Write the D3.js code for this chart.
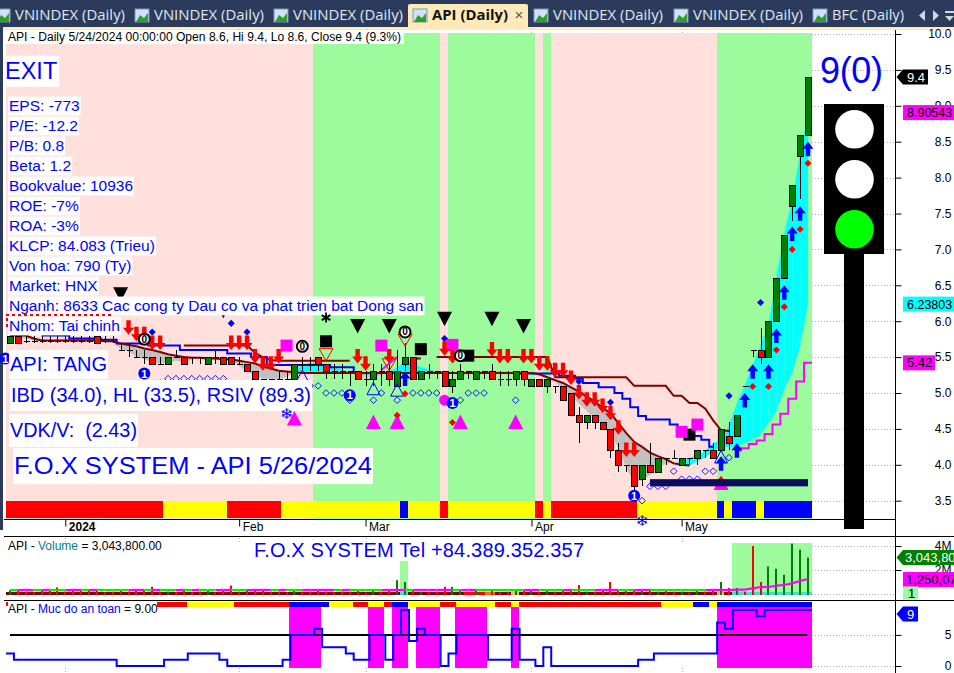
<!DOCTYPE html>
<html><head><meta charset="utf-8">
<style>
html,body{margin:0;padding:0;background:#fff;overflow:hidden}
svg{display:block}
text{font-family:"Liberation Sans",Arial,sans-serif}
</style>
<script src="https://cdn.jsdelivr.net/npm/d3@7/dist/d3.min.js"></script>
</head><body><svg id="c" width="954" height="673"></svg>
<script>
// ---------- DATA (bar index 0..101) ----------
const opens =[5.7,5.8,5.73,5.73,5.73,5.73,5.73,5.73,5.73,5.73,5.73,5.8,5.73,5.73,5.6,5.6,5.5,5.5,5.5,5.4,5.4,5.5,5.5,5.5,5.5,5.4,5.5,5.5,5.5,5.4,5.4,5.3,5.2,5.2,5.2,5.2,5.2,5.4,5.4,5.5,5.4,5.3,5.3,5.3,5.3,5.2,5.2,5.3,5.3,5.1,5.4,5.5,5.2,5.3,5.3,5.3,5.1,5.2,5.3,5.2,5.3,5.3,5.2,5.2,5.2,5.3,5.1,5.2,5.1,5.1,5.1,5.0,4.7,4.6,4.7,4.6,4.5,4.2,4.0,4.0,3.8,4.0,3.9,4.1,4.1,4.0,4.1,4.1,4.2,4.2,4.2,4.4,4.4,5.1,5.6,5.6,5.5,6.0,6.6,7.6,8.3,8.6];
const highs =[5.8,5.8,5.8,5.8,5.8,5.8,5.8,5.8,5.8,5.8,5.8,5.8,5.8,5.8,5.7,5.7,5.6,5.6,5.5,5.5,5.5,5.6,5.5,5.5,5.5,5.5,5.6,5.5,5.5,5.5,5.4,5.3,5.2,5.2,5.3,5.3,5.4,5.5,5.5,5.5,5.4,5.4,5.4,5.3,5.3,5.3,5.4,5.4,5.4,5.6,5.7,5.5,5.3,5.4,5.3,5.3,5.3,5.4,5.3,5.3,5.3,5.4,5.3,5.3,5.3,5.3,5.2,5.2,5.2,5.1,5.1,5.0,4.8,4.7,4.7,4.6,4.5,4.3,4.0,4.0,4.0,4.3,4.1,4.1,4.2,4.1,4.1,4.2,4.2,4.3,4.5,4.6,4.7,5.1,5.6,5.9,6.0,6.6,7.2,7.9,8.6,9.4];
const lows  =[5.7,5.7,5.69,5.69,5.69,5.69,5.69,5.69,5.69,5.69,5.69,5.7,5.69,5.69,5.6,5.5,5.5,5.4,5.4,5.4,5.4,5.5,5.4,5.4,5.4,5.4,5.4,5.4,5.4,5.4,5.3,5.2,5.2,5.2,5.2,5.2,5.2,5.3,5.3,5.3,5.2,5.2,5.2,5.1,5.2,5.1,5.1,5.1,5.1,5.1,5.3,5.2,5.2,5.2,5.2,5.1,5.0,5.2,5.2,5.2,5.2,5.2,5.1,5.1,5.1,5.1,5.1,5.1,5.0,5.0,4.9,4.7,4.3,4.5,4.5,4.5,4.1,3.9,3.9,3.65,3.7,3.9,3.9,4.0,4.1,4.0,4.0,4.0,4.1,4.1,4.2,4.2,4.4,5.1,5.5,5.4,5.5,6.0,6.6,7.4,7.7,8.6];
const closes=[5.8,5.7,5.73,5.73,5.73,5.73,5.73,5.73,5.73,5.73,5.73,5.7,5.73,5.73,5.6,5.6,5.5,5.5,5.4,5.4,5.5,5.5,5.4,5.5,5.5,5.5,5.5,5.4,5.4,5.4,5.3,5.2,5.2,5.2,5.2,5.2,5.4,5.4,5.4,5.4,5.3,5.3,5.3,5.3,5.2,5.2,5.3,5.3,5.2,5.3,5.5,5.2,5.3,5.3,5.3,5.1,5.2,5.3,5.3,5.3,5.3,5.2,5.2,5.2,5.3,5.2,5.2,5.1,5.2,5.1,4.9,4.7,4.6,4.7,4.6,4.5,4.2,4.0,4.0,3.7,4.0,3.9,4.1,4.1,4.1,4.1,4.1,4.2,4.2,4.1,4.5,4.3,4.7,5.1,5.6,5.5,6.0,6.6,7.2,7.9,8.6,9.4];
const volumes=[.3,.35,.2,.15,.3,.3,.55,.2,.3,.25,.35,.35,.15,.2,.3,.2,.35,.3,.6,.2,.2,.15,.3,.15,.2,.3,.15,.3,.7,.2,.35,.3,.3,.2,.2,.15,.3,.2,.2,.3,.2,.15,.2,.2,.3,.1,.4,.2,.3,1.15,1.0,.3,.2,.15,.2,.6,.6,.3,.2,.3,.2,.35,.15,.2,.3,.25,.3,.2,.35,.2,.3,.4,.75,.2,.2,.3,1.0,.3,.25,.35,.3,.35,.2,.25,.2,.2,.1,.3,.2,.35,1.0,.5,.5,.2,4.0,1.0,2.3,2.1,1.6,4.2,3.7,3.04];
const safety=[2,1,1,1,1,1,1,1,1,1,1,1,1,1,0,0,0,0,0,0,1,1,1,2,2,2,2,1,0,0,0,0,0,0,0,1,5,5,5,6,3,3,3,2,1,1,5,5,1,5,9,4,6,5,5,0,2,5,5,5,5,1,1,1,6,1,1,0,3,0,0,0,0,0,0,0,0,0,0,0,1,1,2,2,2,2,2,2,2,2,7,6,9,9,9,8,9,9,9,9,9,9];
const fastCurve=[5.8,5.78,5.76,5.73,5.72,5.73,5.74,5.75,5.75,5.75,5.75,5.75,5.75,5.71,5.62,5.58,5.5,5.47,5.42,5.41,5.42,5.45,5.43,5.47,5.49,5.49,5.5,5.47,5.47,5.38,5.3,5.24,5.2,5.2,5.2,5.22,5.3,5.4,5.42,5.42,5.38,5.35,5.32,5.3,5.26,5.22,5.22,5.25,5.3,5.36,5.45,5.42,5.36,5.33,5.3,5.28,5.26,5.29,5.3,5.3,5.3,5.3,5.3,5.3,5.29,5.28,5.27,5.24,5.2,5.15,5.05,4.95,4.85,4.75,4.65,4.55,4.42,4.25,3.95,3.76,3.78,3.86,3.95,4.02,4.02,4.05,4.1,4.13,4.2,4.3,4.35,4.55,4.86,5.1,5.39,5.67,5.95,6.62,7.23,7.69,8.34,8.90543];
const slowCurve=[5.8,5.8,5.8,5.76,5.73,5.73,5.73,5.73,5.73,5.73,5.73,5.73,5.72,5.72,5.69,5.67,5.65,5.62,5.6,5.57,5.54,5.52,5.5,5.49,5.49,5.48,5.48,5.47,5.47,5.45,5.43,5.41,5.37,5.34,5.31,5.3,5.29,5.28,5.28,5.28,5.28,5.28,5.28,5.28,5.28,5.28,5.28,5.28,5.28,5.28,5.28,5.28,5.28,5.28,5.28,5.28,5.28,5.28,5.28,5.28,5.28,5.28,5.28,5.28,5.28,5.28,5.28,5.26,5.22,5.18,5.14,5.08,5.02,4.95,4.88,4.79,4.72,4.58,4.44,4.32,4.25,4.17,4.12,4.08,4.02,4.0,3.99,4.05,4.1,4.2,4.24,4.25,4.26,4.3,4.35,4.42,4.58,4.75,5.05,5.28,5.65,6.23803];
const slowLineEnd=86;
const blueTrail=[null,null,null,null,5.8,5.8,5.8,5.8,5.76,5.76,5.76,5.76,5.74,5.74,5.69,5.69,5.69,5.69,5.66,5.66,5.66,5.66,5.6,5.6,5.6,5.6,5.6,5.6,5.55,5.55,5.55,5.5,5.5,5.39,5.39,5.39,5.39,5.39,5.39,5.39,5.39,5.36,5.36,5.36,5.28,5.28,5.28,5.28,5.28,5.28,5.28,5.28,5.28,5.28,5.28,5.28,5.28,5.28,5.28,5.28,5.28,5.28,5.28,5.28,5.28,5.27,5.27,5.27,5.27,5.27,5.24,5.24,5.2,5.14,5.14,5.08,5.08,5.0,4.92,4.8,4.68,4.63,4.63,4.63,4.56,4.5,4.47,4.4,4.35,4.25];
const redTrail=[null,null,null,null,null,null,null,null,null,null,null,null,null,null,null,null,null,null,null,null,null,null,5.66,5.66,5.66,5.66,5.66,5.66,5.66,5.66,5.66,5.56,5.5,5.46,5.45,5.45,5.45,5.45,5.45,5.45,5.45,5.45,5.45,5.45,null,null,null,null,null,null,null,5.48,5.48,null,5.5,5.5,5.5,5.5,5.5,5.5,5.5,5.5,5.5,5.5,5.5,5.5,5.5,5.5,5.5,5.22,5.22,5.22,5.22,5.22,5.22,5.22,5.22,5.22,5.22,5.1,5.1,5.1,5.1,5.1,4.96,4.96,4.86,4.86,4.78,4.62,4.48,4.47];
const magentaBars=[92,93,94,95,96,97,98,99,100,101];
const magentaTrail=[4.2,4.23,4.29,4.34,4.43,4.56,4.71,4.92,5.16,5.42];
const magentaShortBars=[47,48,49];
const magentaShort=[5.32,5.41,5.5];
const volMA=[.33,.33,.34,.33,.33,.34,.33,.33,.34,.34,.33,.34,.33,.33,.33,.33,.34,.34,.33,.34,.33,.33,.34,.33,.34,.33,.33,.34,.34,.33,.33,.34,.34,.34,.33,.34,.33,.33,.34,.34,.34,.34,.33,.34,.33,.33,.33,.33,.34,.34,.34,.33,.34,.34,.34,.34,.34,.33,.34,.34,.34,.33,.33,.33,.33,.33,.34,.34,.33,.33,.33,.34,.33,.33,.33,.34,.34,.34,.33,.33,.34,.34,.33,.33,.33,.33,.33,.33,.33,.34,.34,.33,.36,.36,.47,.58,.58,.69,.75,.89,1.08,1.25];
const volMAMagenta=[2,3,5,8,9,11,16,17,19,22,24,27,28,31,32,33,35,38,39,40,41,43,48,49,50,52,53,54,55,56,58,59,66,67,71,75,76,77,80,81,89,90,91,92,93,94,95,96,97,98,99,100,101];
const bandEdges=[-0.4,49.5,50.5,57.5,60,61.5,63.5,64.5,89.6,90.5,91.5,101.6];
const bandColors=["#800000","#40e0d0","#800000","#ff0000","#ff6a20","#800000","#ffb070","#800000","#ffb070","#800000","#40e0d0"];
const volHighlightFrom=[49.5,91.5];
const volHighlightTo=[50.5,101.6];
const volHighlightTop=[2.75,4.25];
const zoneEdges=[-0.4,38.5,54.5,55.5,66.5,67.5,68.5,89.6,101.6];
const zoneKinds=["bear","bull","bear","bull","bear","bull","bear","bull"];
const stripEdges=[-0.4,19.5,27.5,34.4,49.5,50.5,54.5,55.5,66.5,67.5,68.5,79.5,89.6,90.5,91.5,94.5,95.5,101.6];
const stripColors=["#ff0000","#ffff00","#ff0000","#ffff00","#0000ff","#ffff00","#ff0000","#ffff00","#ff0000","#ffff00","#ff0000","#ffff00","#0000ff","#ffff00","#0000ff","#ffff00","#0000ff"];
const strip2Edges=[18.7,22.5,28.5,35.4,40.5,43.5,45.4,47.4,48.5,50.5,54.5,56.5,61.5,63.5,64.5,82.5,86.5,88.6,89.6,101.6];
const strip2Colors=["#ff0000","#ffff00","#ff0000","#0000ff","#ffff00","#ff0000","#ffff00","#ff0000","#0000ff","#ffff00","#ff0000","#ffff00","#ff0000","#ffff00","#ff0000","#ffff00","#0000ff","#ffff00","#0000ff"];
const sellBars=[15,16,17,18,19,28,29,30,31,32,33,34,44,45,48,55,56,61,62,63,65,66,67,68,69,70,71,72,73,74,75,76,77,78,79];
const sellTips=[5.81,5.72,5.72,5.6,5.6,5.6,5.6,5.6,5.41,5.31,5.31,5.41,5.41,5.31,5.41,5.52,5.41,5.51,5.41,5.41,5.41,5.41,5.31,5.31,5.22,5.22,5.11,4.91,4.81,4.81,4.72,4.62,4.42,4.11,4.11];
const buyBars=[50,90,92,93,94,96,97,98,99,100,101];
const buyTips=[5.3,4.12,4.3,5.0,5.4,5.4,5.9,6.5,7.32,7.6,8.5];
const redDotBars=[49,50,56,90,94,96,97,98,99,100,101];
const redDotPrices=[4.69,4.99,4.59,3.79,5.09,5.09,5.6,6.2,7.0,7.28,8.2];
const blueDotBars=[18,28,30,55,72,76,91,95];
const blueDotPrices=[5.85,5.97,5.85,5.76,5.16,4.87,4.96,6.26];
const ringBars=[20,21,22,23,24,25,26,27,37,38,39,40,41,42,46,47,49,51,52,53,54,57,58,59,60,64,80,81,82,83,84,85,86,87,88,89,91,43];
const ringPrices=[5.2,5.2,5.2,5.2,5.2,5.2,5.2,5.2,5.1,5.1,5.1,5.0,5.0,5.0,4.9,5.0,4.9,5.0,5.0,5.0,5.0,4.9,5.0,5.0,5.0,4.9,3.5,3.7,3.7,3.7,3.91,3.8,3.8,3.8,3.91,3.91,4.1,4.9];
const blueTriBars=[37,46,49,90];
const blueTriTops=[5.32,5.15,5.13,4.2];
const oneBars=[17,43,56,79,-0.6];
const onePrices=[5.27,4.97,4.86,3.57,5.48];
const zeroBars=[17,37,50,57];
const zeroPrices=[5.75,5.65,5.85,5.52];
const blackDownBars=[14,27,44,48,55,61,65];
const blackDownTips=[6.27,6.04,5.83,5.83,5.93,5.93,5.83];
const hollowDownBars=[40,48,50];
const hollowDownTips=[5.45,5.31,5.65];
const blackSquareBars=[40,52,58,86];
const blackSquarePrices=[5.72,5.61,5.52,4.42];
const magentaSquareBars=[35,47,56,85,87];
const magentaSquarePrices=[5.66,5.66,5.67,4.46,4.56];
const magentaDotBars=[55];
const magentaDotPrices=[4.9];
const magentaTriBars=[19,36,46,49,57,64,90];
const magentaTriTops=[5.2,4.75,4.7,4.7,4.7,4.7,3.85];
const snowBars=[35,80];
const snowPrices=[4.72,3.22];
const starBars=[40];
const starPrices=[6.05];
const navyFrom=81, navyTo=101, navyTop=3.8, navyBottom=3.7;
const monthBars=[7,29,45,66,85];
const monthLabels=["2024","Feb","Mar","Apr","May"];
const priceTicks=[3.5,4,4.5,5,5.5,6,6.5,7,7.5,8,8.5,9,9.5,10];
const volTicks=[0,2,4];
const safeTicks=[0,5];
const infoLines=["EPS: -773","P/E: -12.2","P/B: 0.8","Beta: 1.2","Bookvalue: 10936","ROE: -7%","ROA: -3%","KLCP: 84.083 (Trieu)","Von hoa: 790 (Ty)","Market: HNX","Nganh: 8633 Cac cong ty Dau co va phat trien bat Dong san","Nhom: Tai chinh"];
const tabNames=["VNINDEX (Daily)","VNINDEX (Daily)","VNINDEX (Daily)","API (Daily)","VNINDEX (Daily)","VNINDEX (Daily)","BFC (Daily)"];

// ---------- SCALES ----------
const svg=d3.select("#c");
const x=d3.scaleLinear([0,101],[10,808]);
const y=d3.scaleLinear([3.5,10],[500.7,34]);
const yV=d3.scaleLinear([0,4],[594,546]);
const yS=d3.scaleLinear([0,9],[666,610]);
const snap=v=>Math.round(v)+.5;
const edge=b=>Math.floor(x(b)-.2);
const BLUE="#0000ff",MAG="#ff00ff";

// ---------- CHROME ----------
svg.append("rect").attr("width",954).attr("height",27).attr("fill","#2c3b5c");
svg.append("rect").attr("y",27).attr("width",954).attr("height",3).attr("fill","#fdeab8");
svg.append("rect").attr("y",27).attr("width",3).attr("height",503).attr("fill","#2c3b5c");
svg.append("path").attr("d","M408,27V6q0,-2 2,-2H526q2,0 2,2V27Z").attr("fill","#fdeab8");
const tabX=[15,154,293,432,553,693,832], tabW=[110,110,110,76,110,110,72];
tabNames.forEach((t,i)=>{
  const ix=tabX[i]-19;
  const g=svg.append("g");
  g.append("rect").attr("x",ix).attr("y",9).attr("width",14).attr("height",13).attr("fill","#cfe2f7").attr("stroke","#7d97b8");
  g.append("path").attr("d",`M${ix+1},22L${ix+5},15L${ix+9},18L${ix+13},13V22Z`).attr("fill","#2f9e2f");
  const active=i===3;
  g.append("text").attr("x",tabX[i]).attr("y",20).attr("font-size",14.5)
    .style("font-family","'Open Sans',sans-serif")
    .attr("font-weight",active?700:400).attr("fill",active?"#111":"#dfe8f2")
    .attr("textLength",tabW[i]).attr("lengthAdjust","spacingAndGlyphs").text(t);
});
svg.append("text").attr("x",519).attr("y",20).attr("font-size",15).attr("fill","#555").attr("text-anchor","middle").text("×");
svg.append("path").attr("d","M925,10V21L919,15.5ZM933,10V21L939,15.5ZM945,11H954V13H945ZM945,16H954L949.5,21Z").attr("fill","#cfd6df");

// ---------- GRID ----------
const grid=svg.append("g").attr("stroke","#b4b4b4").attr("stroke-dasharray","1,2").attr("fill","none");
priceTicks.forEach(v=>grid.append("line").attr("x1",812).attr("x2",895).attr("y1",snap(y(v))).attr("y2",snap(y(v))));
volTicks.forEach(v=>grid.append("line").attr("x1",812).attr("x2",895).attr("y1",snap(yV(v))).attr("y2",snap(yV(v))));
safeTicks.forEach(v=>grid.append("line").attr("x1",812).attr("x2",895).attr("y1",snap(yS(v))).attr("y2",snap(yS(v))));
monthBars.forEach(b=>{[[29,33],[538,542],[668,673]].forEach(([a,c])=>grid.append("line").attr("x1",snap(x(b))).attr("x2",snap(x(b))).attr("y1",a).attr("y2",c));});

// ---------- MAIN PANE ----------
const rangeRects=(edges,fill,yTop,yBot)=>edges.slice(1).forEach((e,i)=>{
  svg.append("rect").attr("x",edge(edges[i])).attr("width",edge(e)-edge(edges[i]))
    .attr("y",yTop).attr("height",yBot-yTop).attr("fill",fill(i));
});
rangeRects(zoneEdges,i=>zoneKinds[i]==="bull"?"#9cfb9c":"#ffe0dc",33,519);
rangeRects(stripEdges,i=>stripColors[i],501,518);

const cloud=svg.append("g");
const area=d3.area().x(d=>x(d.i)).y0(d=>y(d.s)).y1(d=>y(d.f));
fastCurve.slice(1).forEach((f,k)=>{
  const pts=[{i:k,f:fastCurve[k],s:slowCurve[k]},{i:k+1,f:f,s:slowCurve[k+1]}];
  const up=(pts[0].f+pts[1].f)>=(pts[0].s+pts[1].s);
  cloud.append("path").attr("d",area(pts)).attr("fill",up?"#00ffff":"#c0c0c0");
});

// trail lines
const stepLine=d3.line().defined(d=>d[1]!=null).x(d=>x(d[0])).y(d=>y(d[1])).curve(d3.curveStep);
const smoothLine=d3.line().x(d=>x(d[0])).y(d=>y(d[1]));
svg.append("path").attr("fill","none").attr("stroke",BLUE).attr("stroke-width",2)
  .attr("d",stepLine(blueTrail.map((v,i)=>[i,v])));
svg.append("path").attr("fill","none").attr("stroke","#800000").attr("stroke-width",2)
  .attr("d",smoothLine(slowCurve.slice(0,slowLineEnd+1).map((v,i)=>[i,v])));
svg.append("path").attr("fill","none").attr("stroke","#800000").attr("stroke-width",2)
  .attr("d",d3.line().defined(d=>d[1]!=null).x(d=>x(d[0])).y(d=>y(d[1]))(redTrail.map((v,i)=>[i,v])));
svg.append("path").attr("fill","none").attr("stroke",MAG).attr("stroke-width",2)
  .attr("d",stepLine(magentaBars.map((b,i)=>[b,magentaTrail[i]]).concat([[101.5,5.42]])));
svg.append("path").attr("fill","none").attr("stroke",MAG).attr("stroke-width",2)
  .attr("d",smoothLine(magentaShortBars.map((b,i)=>[b,magentaShort[i]])));

// candles
const candles=svg.append("g");
closes.forEach((c,i)=>{
  const o=opens[i],px=snap(x(i));
  const g=candles.append("g").attr("stroke","#000").attr("shape-rendering","crispEdges");
  g.append("line").attr("x1",px).attr("x2",px).attr("y1",y(highs[i])).attr("y2",y(lows[i]));
  if(c===o){
    g.append("line").attr("x1",px-3).attr("x2",px+3).attr("y1",snap(y(c))).attr("y2",snap(y(c)));
  }else{
    const t=Math.round(y(Math.max(o,c))),b=Math.round(y(Math.min(o,c)));
    g.append("rect").attr("x",px-3).attr("width",6).attr("y",t+.5).attr("height",b-t)
      .attr("fill",c>o?"#008000":"#ff0000");
  }
});

// markers
const mk=svg.append("g");
const arrowDown="M-2.2,-14.5H2.2V-7H5.5L0,0L-5.5,-7H-2.2Z";
const arrowUp="M-2.2,14.5H2.2V7H5.5L0,0L-5.5,7H-2.2Z";
magentaTriBars.forEach((b,i)=>mk.append("path").attr("transform",`translate(${x(b)},${y(magentaTriTops[i])})`).attr("d","M0,0L7.5,14.5H-7.5Z").attr("fill",MAG));
blackDownBars.forEach((b,i)=>mk.append("path").attr("transform",`translate(${x(b)},${y(blackDownTips[i])})`).attr("d","M0,0L-7.5,-14.5H7.5Z").attr("fill","#000"));
hollowDownBars.forEach((b,i)=>mk.append("path").attr("transform",`translate(${x(b)},${y(hollowDownTips[i])})`).attr("d","M0,0L-7,-12H7Z").attr("fill","none").attr("stroke","#ff0000"));
blueTriBars.forEach((b,i)=>mk.append("path").attr("transform",`translate(${x(b)},${y(blueTriTops[i])})`).attr("d","M0,0L6.5,12.5H-6.5Z").attr("fill","none").attr("stroke",BLUE));
blackSquareBars.forEach((b,i)=>mk.append("rect").attr("x",x(b)-6).attr("y",y(blackSquarePrices[i])-6).attr("width",12).attr("height",12).attr("fill","#000"));
magentaSquareBars.forEach((b,i)=>mk.append("rect").attr("x",x(b)-6).attr("y",y(magentaSquarePrices[i])-6).attr("width",12).attr("height",12).attr("fill",MAG));
magentaDotBars.forEach((b,i)=>mk.append("circle").attr("cx",x(b)).attr("cy",y(magentaDotPrices[i])).attr("r",5.5).attr("fill",MAG));
sellBars.forEach((b,i)=>mk.append("path").attr("transform",`translate(${x(b)},${y(sellTips[i])})`).attr("d",arrowDown).attr("fill","#ff0000"));
buyBars.forEach((b,i)=>mk.append("path").attr("transform",`translate(${x(b)},${y(buyTips[i])})`).attr("d",arrowUp).attr("fill",BLUE));
const dia=d3.symbol().type(d3.symbolDiamond2);
redDotBars.forEach((b,i)=>mk.append("path").attr("transform",`translate(${x(b)},${y(redDotPrices[i])})`).attr("d",dia.size(32)()).attr("fill","#ff0000"));
blueDotBars.forEach((b,i)=>mk.append("path").attr("transform",`translate(${x(b)},${y(blueDotPrices[i])})`).attr("d",dia.size(32)()).attr("fill",BLUE));
ringBars.forEach((b,i)=>mk.append("path").attr("transform",`translate(${x(b)},${y(ringPrices[i])})`).attr("d",dia.size(28)()).attr("fill","none").attr("stroke",BLUE).attr("stroke-width",.9));
oneBars.forEach((b,i)=>{
  const g=mk.append("g").attr("transform",`translate(${x(b)},${y(onePrices[i])})`);
  g.append("circle").attr("r",6).attr("fill",BLUE);
  g.append("text").attr("text-anchor","middle").attr("y",4).attr("font-size",11).attr("font-weight",700).attr("fill","#fff").text("1");
});
zeroBars.forEach((b,i)=>{
  const g=mk.append("g").attr("transform",`translate(${x(b)},${y(zeroPrices[i])})`);
  g.append("circle").attr("r",5.5).attr("fill","#fff").attr("stroke","#000").attr("stroke-width",2);
  g.append("text").attr("text-anchor","middle").attr("y",3.5).attr("font-size",10).attr("font-weight",700).attr("fill","#000").text("0");
});

// navy block sits above the ring markers
svg.append("rect").attr("x",x(navyFrom)).attr("width",x(navyTo)-x(navyFrom))
  .attr("y",y(navyTop)).attr("height",y(navyBottom)-y(navyTop)).attr("fill","#0c0c5e");

// ---------- TEXT BOXES ----------
const box=(t,px,base,size,opt={})=>{
  const g=svg.append("g");
  const r=g.append("rect").attr("fill","#fff");
  const el=g.append("text").attr("x",px).attr("y",base).attr("font-size",size).attr("fill",opt.fill||BLUE).style("white-space","pre").text(t);
  const len=opt.len||el.node().getComputedTextLength();
  if(opt.len)el.attr("textLength",opt.len).attr("lengthAdjust","spacingAndGlyphs");
  r.attr("x",px-(opt.padL==null?1:opt.padL)).attr("width",len+2+(opt.padR||0)).attr("y",base-size*.9-(opt.padY||0)).attr("height",size*1.15+2*(opt.padY||0));
  return g;
};
box("API - Daily 5/24/2024 00:00:00 Open 8.6, Hi 9.4, Lo 8.6, Close 9.4 (9.3%)",8,41,12,{fill:"#000",len:393,padL:2,padR:3});
box("EXIT",5,79,23.5,{padL:0,padY:2});
infoLines.forEach((t,i)=>box(t,9,111+i*20,15.5,{padY:.5}));
svg.append("line").attr("x1",6).attr("x2",113).attr("y1",315).attr("y2",315).attr("stroke","#ff0000").attr("stroke-width",2).attr("stroke-dasharray","3,3");
svg.append("line").attr("x1",7).attr("x2",7).attr("y1",318).attr("y2",330).attr("stroke","#ff0000").attr("stroke-width",2).attr("stroke-dasharray","3,3");
box("API: TANG",10,371,20,{padY:3});
box("IBD (34.0), HL (33.5), RSIV (89.3)",11,402,20,{padY:4,len:300});
box("VDK/V:  (2.43)",10,437,20,{padY:5,len:127});
box("F.O.X SYSTEM - API 5/26/2024",14,474,24.5,{padY:4,len:358});

// markers that sit on top of the text boxes and the strip
const star=d3.symbol().type(d3.symbolAsterisk).size(70);
starBars.forEach((b,i)=>svg.append("path").attr("transform",`translate(${x(b)},${y(starPrices[i])})`).attr("d",star()).attr("fill","none").attr("stroke","#000").attr("stroke-width",1.8));
snowBars.forEach((b,i)=>svg.append("text").attr("x",x(b)).attr("y",y(snowPrices[i])+5.5).attr("text-anchor","middle").attr("font-size",15).attr("fill",BLUE).style("font-family","'DejaVu Sans'").text("❄"));

// ---------- TRAFFIC LIGHT ----------
svg.append("text").attr("x",820).attr("y",83).attr("font-size",36).attr("fill",BLUE).attr("textLength",63).text("9(0)");
svg.append("rect").attr("x",844).attr("y",254).attr("width",20).attr("height",275).attr("fill","#000");
svg.append("rect").attr("x",824).attr("y",104).attr("width",60).attr("height",150).attr("fill","#000");
["#fff","#fff","#00ff00"].forEach((c,i)=>svg.append("circle").attr("cx",854.5).attr("cy",129.3+i*50).attr("r",19.3).attr("fill",c));

// ---------- VOLUME PANE ----------
volHighlightFrom.forEach((f,i)=>svg.append("rect").attr("x",edge(f)).attr("width",edge(volHighlightTo[i])-edge(f))
  .attr("y",yV(volHighlightTop[i])).attr("height",yV(0)-yV(volHighlightTop[i])+1).attr("fill","#9cfb9c"));
rangeRects(bandEdges,i=>bandColors[i],592,595);
volumes.forEach((v,i)=>{
  svg.append("rect").attr("x",Math.round(x(i))-1).attr("width",2).attr("y",yV(v)).attr("height",yV(0)-yV(v)+1)
    .attr("fill",closes[i]>opens[i]?"#008000":"#ff0000");
});
const maLine=d3.line().x(d=>x(d[0])).y(d=>yV(d[1]));
volMA.slice(1).forEach((v,i)=>{
  svg.append("path").attr("fill","none").attr("stroke-width",2.2)
    .attr("stroke",volMAMagenta.includes(i+1)?MAG:"#00ee00")
    .attr("d",maLine([[i,volMA[i]],[i+1,v]]));
});
const legend=(py,parts)=>{
  const t=svg.append("text").attr("x",8).attr("y",py).attr("font-size",12);
  parts.forEach(([s,c])=>t.append("tspan").attr("fill",c).style("white-space","pre").text(s));
};
legend(550,[["API - ","#000"],["Volume","#008080"],[" = 3,043,800.00","#000"]]);
svg.append("text").attr("x",254).attr("y",557).attr("font-size",20).attr("fill",BLUE).attr("textLength",330).text("F.O.X SYSTEM Tel +84.389.352.357");

// ---------- SAFETY PANE ----------
rangeRects(strip2Edges,i=>strip2Colors[i],602,607);
safety.forEach((v,i)=>{
  if(v<5) return;
  const e=b=>i>=90?Math.round(x(b)):Math.floor(x(b)-.5);
  svg.append("rect").attr("x",e(i-.5)).attr("width",e(i+.5)-e(i-.5)).attr("y",607).attr("height",61).attr("fill",MAG);
});
svg.append("line").attr("x1",x(0)).attr("x2",x(100.9)).attr("y1",yS(5)).attr("y2",yS(5)).attr("stroke","#000").attr("stroke-width",2);
svg.append("path").attr("fill","none").attr("stroke",BLUE).attr("stroke-width",2)
  .attr("d",d3.line().x(d=>x(d[0])).y(d=>yS(d[1])).curve(d3.curveStep)([[-0.5,safety[0]],...safety.map((v,i)=>[i,v]),[101.5,safety[101]]]));
legend(613,[["API - ","#000"],["Muc do an toan",BLUE],[" = 9.00","#000"]]);
svg.append("rect").attr("x",6).attr("y",602).attr("width",2).attr("height",4).attr("fill","#ff0000");

// ---------- FRAME + AXES ----------
const frame=svg.append("g").attr("stroke","#000");
frame.append("line").attr("x1",4).attr("x2",895).attr("y1",519.5).attr("y2",519.5);
frame.append("line").attr("x1",4).attr("x2",954).attr("y1",536.5).attr("y2",536.5);
frame.append("line").attr("x1",4).attr("x2",954).attr("y1",600.5).attr("y2",600.5);
const rightAxis=(scale,vals,fmt)=>{
  const g=svg.append("g").attr("transform","translate(895.5,0)")
    .call(d3.axisRight(scale).tickValues(vals).tickFormat(fmt).tickSize(6).tickPadding(50));
  g.select(".domain").remove();
  g.selectAll("text").attr("text-anchor","end").attr("font-size",12).attr("fill","#000").style("font-family","'Liberation Sans'");
  g.selectAll("line").attr("stroke","#000");
};
rightAxis(y,priceTicks,d3.format(".1f"));
rightAxis(yV,[2,4],d=>d+"M");
rightAxis(yS,safeTicks,d3.format("d"));
svg.append("line").attr("x1",895.5).attr("x2",895.5).attr("y1",30).attr("y2",673).attr("stroke","#000");
const xa=svg.append("g").attr("transform","translate(0,519.5)")
  .call(d3.axisBottom(x).tickValues(monthBars).tickFormat((d,i)=>monthLabels[i]).tickSize(7));
xa.select(".domain").remove();
xa.selectAll("line").attr("stroke","#000");
xa.selectAll("text").attr("text-anchor","start").attr("x",3).attr("y",11.5).attr("dy",null).attr("font-size",12).attr("fill","#000")
  .style("font-family","'Liberation Sans'").attr("font-weight",(d,i)=>i===0?700:400);

// ---------- VALUE TAGS ----------
const tag=(yc,txt,bg,fg,opts={})=>{
  const h=opts.h||15,xL=opts.x||903,w=opts.w||60,g=svg.append("g");
  if(opts.pointer) g.append("path").attr("d",`M896.5,${yc}L${xL},${yc-h/2}H${xL+w}V${yc+h/2}H${xL}Z`).attr("fill",bg);
  else g.append("rect").attr("x",xL).attr("y",yc-h/2).attr("width",w).attr("height",h).attr("fill",bg);
  g.append("text").attr("x",(opts.tx||xL+4)).attr("y",yc+4.5).attr("font-size",opts.fs||13).attr("fill",fg).text(txt);
};
tag(y(closes[101]),"9.4","#000","#fff",{pointer:1,w:25,x:903,tx:907});
tag(y(fastCurve[101]),"8.90543",MAG,"#000",{fs:12.5});
tag(y(slowCurve[101]),"6.23803","#00ffff","#000",{fs:12.5});
tag(y(magentaTrail[9]),"5.42",MAG,"#000",{w:32,tx:907});
tag(yV(volumes[101]),"3,043,800","#008000","#fff",{pointer:1,tx:905});
tag(yV(volMA[101])+.5,"1,250,075",MAG,"#000",{tx:906});
tag(593,"1","#9cfb9c","#000",{w:15,tx:908,h:13});
tag(yS(safety[101])+4,"9",BLUE,"#fff",{pointer:1,w:15,tx:907});
</script></body></html>
